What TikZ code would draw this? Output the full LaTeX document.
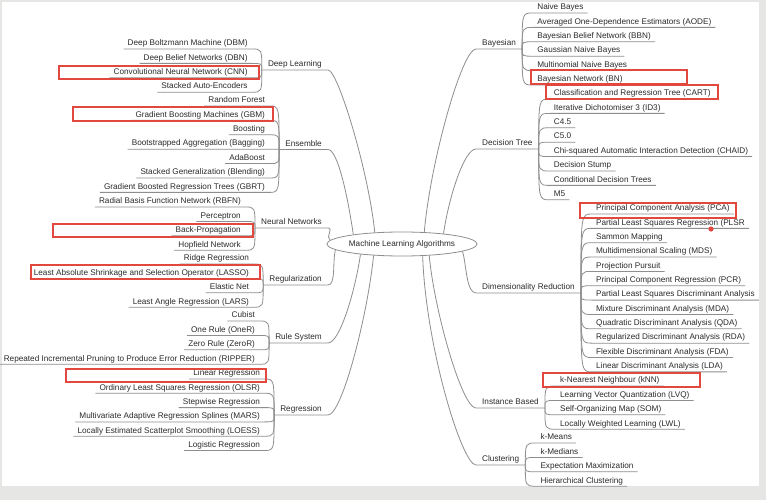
\documentclass[tikz,border=0pt]{standalone}
\usepackage{fontspec}
\setmainfont{Liberation Sans}
\usetikzlibrary{shapes.geometric}
\definecolor{linec}{HTML}{8E8E8E}
\definecolor{txtc}{HTML}{2B2B2B}
\definecolor{boxc}{HTML}{E2483D}
\definecolor{bgc}{HTML}{E6E6E4}
\newcommand{\fs}{\fontsize{8.2}{9}\selectfont}
\tikzset{
  link/.style={draw=linec,line width=0.8pt},
  leafl/.style={anchor=south east,inner xsep=4pt,inner ysep=0pt,text height=6pt,text depth=3pt,text=txtc,font=\fs},
  leafr/.style={leafl,anchor=south west},
  catl/.style={leafl,inner xsep=6pt},
  catr/.style={catl,anchor=south west},
  hl/.style={draw=boxc,line width=1.1pt},
}
\begin{document}
\begin{tikzpicture}[x=1pt,y=-1pt]
\useasboundingbox (0,0) rectangle (766,500);
\fill[bgc] (0,0) rectangle (766,500);
\fill[white] (2,2) rectangle (759,486);

% centre
\node (mla) at (402,244)[ellipse,draw=linec,line width=0.8pt,minimum width=128pt,minimum height=24pt,inner sep=0pt,text=txtc,font=\fs]{Machine Learning Algorithms};

% categories
\node (dl) at (328,70)[catl]{Deep Learning};
\node (ens) at (328,149.5)[catl]{Ensemble};
\node (nn) at (328,228)[catl]{Neural Networks};
\node (reg) at (328,285)[catl]{Regularization};
\node (rs) at (328,343)[catl]{Rule System};
\node (rg) at (328,415)[catl]{Regression};
\node (by) at (476,49)[catr]{Bayesian};
\node (dt) at (476,149)[catr]{Decision Tree};
\node (dr) at (476,293)[catr]{Dimensionality Reduction};
\node (ib) at (476,408)[catr]{Instance Based};
\node (cl) at (476,465)[catr]{Clustering};

\draw[link] (mla.157) .. controls +(-6,-60) and +(10,0) .. (dl.south east) -- (dl.south west);
\draw[link] (mla.169) .. controls +(-5,-35) and +(10,0) .. (ens.south east) -- (ens.south west);
\draw[link] (mla.177) .. controls +(-5,-3) and +(6,0) .. (nn.south east) -- (nn.south west);
\draw[link] (mla.185) .. controls +(-3,12) and +(8,0) .. (reg.south east) -- (reg.south west);
\draw[link] (mla.194) .. controls +(-5,35) and +(12,0) .. (rs.south east) -- (rs.south west);
\draw[link] (mla.202) .. controls +(-6,60) and +(14,0) .. (rg.south east) -- (rg.south west);
\draw[link] (mla.28) .. controls +(6,-70) and +(-14,0) .. (by.south west) -- (by.south east);
\draw[link] (mla.14) .. controls +(5,-35) and +(-12,0) .. (dt.south west) -- (dt.south east);
\draw[link] (mla.-7) .. controls +(4,12) and +(-10,0) .. (dr.south west) -- (dr.south east);
\draw[link] (mla.-23) .. controls +(5,55) and +(-14,0) .. (ib.south west) -- (ib.south east);
\draw[link] (mla.-30) .. controls +(3,90) and +(-14,0) .. (cl.south west) -- (cl.south east);

% leaves, left
\foreach \t [count=\i] in {Deep Boltzmann Machine (DBM),Deep Belief Networks (DBN),Convolutional Neural Network (CNN),Stacked Auto-Encoders}{
  \pgfmathsetmacro\y{49+(\i-1)*14.4}
  \node (dl\i) at (dl.south west |- 0,\y)[leafl,xshift=-10pt]{\t};
  \draw[link] (dl.south west) .. controls (dl.south west |- dl\i.south east) .. (dl\i.south east) -- (dl\i.south west);
}
\foreach \t [count=\i] in {Random Forest,Gradient Boosting Machines (GBM),Boosting,Bootstrapped Aggregation (Bagging),AdaBoost,Stacked Generalization (Blending),Gradient Boosted Regression Trees (GBRT)}{
  \pgfmathsetmacro\y{106+(\i-1)*14.4}
  \node (ens\i) at (ens.south west |- 0,\y)[leafl,xshift=-10pt]{\t};
  \draw[link] (ens.south west) .. controls (ens.south west |- ens\i.south east) .. (ens\i.south east) -- (ens\i.south west);
}
\foreach \t [count=\i] in {Radial Basis Function Network (RBFN),Perceptron,Back-Propagation,Hopfield Network}{
  \pgfmathsetmacro\y{207+(\i-1)*14.4}
  \node (nn\i) at (nn.south west |- 0,\y)[leafl,xshift=-10pt]{\t};
  \draw[link] (nn.south west) .. controls (nn.south west |- nn\i.south east) .. (nn\i.south east) -- (nn\i.south west);
}
\foreach \t [count=\i] in {Ridge Regression,Least Absolute Shrinkage and Selection Operator (LASSO),Elastic Net,Least Angle Regression (LARS)}{
  \pgfmathsetmacro\y{264+(\i-1)*14.4}
  \node (reg\i) at (reg.south west |- 0,\y)[leafl,xshift=-10pt]{\t};
  \draw[link] (reg.south west) .. controls (reg.south west |- reg\i.south east) .. (reg\i.south east) -- (reg\i.south west);
}
\foreach \t [count=\i] in {Cubist,One Rule (OneR),Zero Rule (ZeroR),Repeated Incremental Pruning to Produce Error Reduction (RIPPER)}{
  \pgfmathsetmacro\y{321+(\i-1)*14.4}
  \node (rs\i) at (rs.south west |- 0,\y)[leafl,xshift=-10pt]{\t};
  \draw[link] (rs.south west) .. controls (rs.south west |- rs\i.south east) .. (rs\i.south east) -- (rs\i.south west);
}
\foreach \t [count=\i] in {Linear Regression,Ordinary Least Squares Regression (OLSR),Stepwise Regression,Multivariate Adaptive Regression Splines (MARS),Locally Estimated Scatterplot Smoothing (LOESS),Logistic Regression}{
  \pgfmathsetmacro\y{379+(\i-1)*14.3}
  \node (rg\i) at (rg.south west |- 0,\y)[leafl,xshift=-10pt]{\t};
  \draw[link] (rg.south west) .. controls (rg.south west |- rg\i.south east) .. (rg\i.south east) -- (rg\i.south west);
}

% leaves, right
\foreach \t [count=\i] in {Naive Bayes,Averaged One-Dependence Estimators (AODE),Bayesian Belief Network (BBN),Gaussian Naive Bayes,Multinomial Naive Bayes,Bayesian Network (BN)}{
  \pgfmathsetmacro\y{13+(\i-1)*14.4}
  \node (by\i) at (by.south east |- 0,\y)[leafr,xshift=11pt]{\t};
  \draw[link] (by.south east) .. controls (by.south east |- by\i.south west) .. (by\i.south west) -- (by\i.south east);
}
\foreach \t [count=\i] in {Classification and Regression Tree (CART),Iterative Dichotomiser 3 (ID3),C4.5,C5.0,Chi-squared Automatic Interaction Detection (CHAID),Decision Stump,Conditional Decision Trees,M5}{
  \pgfmathsetmacro\y{99+(\i-1)*14.4}
  \node (dt\i) at (dt.south east |- 0,\y)[leafr,xshift=11pt]{\t};
  \draw[link] (dt.south east) .. controls (dt.south east |- dt\i.south west) .. (dt\i.south west) -- (dt\i.south east);
}
\foreach \t [count=\i] in {Principal Component Analysis (PCA),Partial Least Squares Regression (PLSR,Sammon Mapping,Multidimensional Scaling (MDS),Projection Pursuit,Principal Component Regression (PCR),Partial Least Squares Discriminant Analysis,Mixture Discriminant Analysis (MDA),Quadratic Discriminant Analysis (QDA),Regularized Discriminant Analysis (RDA),Flexible Discriminant Analysis (FDA),Linear Discriminant Analysis (LDA)}{
  \pgfmathsetmacro\y{214+(\i-1)*14.35}
  \node (dr\i) at (dr.south east |- 0,\y)[leafr,xshift=11pt]{\t};
  \draw[link] (dr.south east) .. controls (dr.south east |- dr\i.south west) .. (dr\i.south west) -- (dr\i.south east);
}
\foreach \t [count=\i] in {k-Nearest Neighbour (kNN),Learning Vector Quantization (LVQ),Self-Organizing Map (SOM),Locally Weighted Learning (LWL)}{
  \pgfmathsetmacro\y{386+(\i-1)*14.4}
  \node (ib\i) at (ib.south east |- 0,\y)[leafr,xshift=11pt]{\t};
  \draw[link] (ib.south east) .. controls (ib.south east |- ib\i.south west) .. (ib\i.south west) -- (ib\i.south east);
}
\foreach \t [count=\i] in {k-Means,k-Medians,Expectation Maximization,Hierarchical Clustering}{
  \pgfmathsetmacro\y{443+(\i-1)*14.4}
  \node (cl\i) at (cl.south east |- 0,\y)[leafr,xshift=11pt]{\t};
  \draw[link] (cl.south east) .. controls (cl.south east |- cl\i.south west) .. (cl\i.south west) -- (cl\i.south east);
}

% highlights
\draw[hl] (59,66) rectangle (259,79);
\draw[hl] (73,107) rectangle (273,121);
\draw[hl] (53,224) rectangle (253,237);
\draw[hl] (31,265) rectangle (260,279);
\draw[hl] (66,369) rectangle (266,382);
\draw[hl] (531,70) rectangle (687,84);
\draw[hl] (546,85) rectangle (718,99);
\draw[hl] (580,203) rectangle (736,218);
\draw[hl] (543,373) rectangle (700,387);
\fill[boxc] (711,229) circle (2.6);
\end{tikzpicture}
\end{document}
